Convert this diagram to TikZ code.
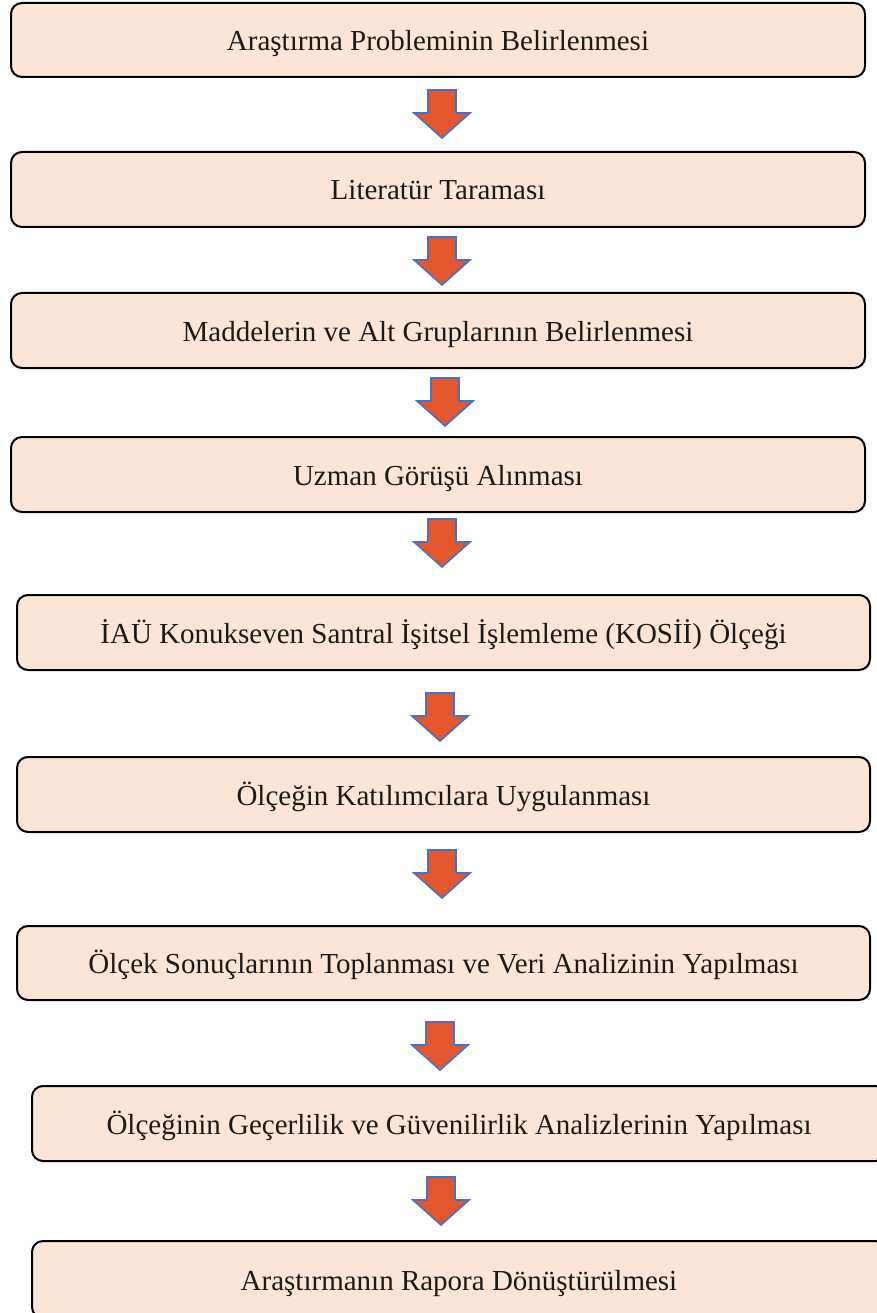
\documentclass[tikz,border=0pt]{standalone}
\usepackage{fontspec}
\setmainfont{Liberation Serif}
\usetikzlibrary{calc}
\definecolor{boxfill}{HTML}{FBE5D6}
\definecolor{arrfill}{HTML}{E4572E}
\definecolor{arrline}{HTML}{4472C4}
\definecolor{txt}{HTML}{1A1A1A}
\begin{document}
\begin{tikzpicture}[x=1pt,y=-1pt,
  stepbox/.style={draw=black,line width=2pt,fill=boxfill,rounded corners=11pt},
  steptext/.style={font=\fontsize{29}{33}\selectfont,text=txt,inner sep=0pt,anchor=base},
  blockarrow/.style={draw=arrline,fill=arrfill,line width=1.6pt,line join=miter}]
\useasboundingbox (0,0) rectangle (877,1313);
\begin{scope}
\clip (0,0) rectangle (877,1313);
\newcommand{\stepnode}[6]{%
  \draw[stepbox] (#2,#3) rectangle (#4,#5);
  \node[steptext] (#1) at ({(#2+#4)/2},{(#3+#5)/2+10.5}) {#6};}
\stepnode{b1}{11}{3}{865}{77}{Araştırma Probleminin Belirlenmesi}
\stepnode{b2}{11}{152}{865}{227}{Literatür Taraması}
\stepnode{b3}{11}{293}{865}{368}{Maddelerin ve Alt Gruplarının Belirlenmesi}
\stepnode{b4}{11}{437}{865}{512}{Uzman Görüşü Alınması}
\stepnode{b5}{17}{595}{870}{670}{İAÜ Konukseven Santral İşitsel İşlemleme (KOSİİ) Ölçeği}
\stepnode{b6}{17}{757}{870}{832}{Ölçeğin Katılımcılara Uygulanması}
\stepnode{b7}{17}{926}{870}{1000}{Ölçek Sonuçlarının Toplanması ve Veri Analizinin Yapılması}
\stepnode{b8}{32}{1086}{886}{1161}{Ölçeğinin Geçerlilik ve Güvenilirlik Analizlerinin Yapılması}
\stepnode{b9}{32}{1241}{886}{1318}{Araştırmanın Rapora Dönüştürülmesi}
\end{scope}
\newcommand{\blockdown}[3]{%
  \coordinate (#1) at (#2,#3);
  \draw[blockarrow] ($(#1)+(-14,-24)$) -- ($(#1)+(14,-24)$) -- ($(#1)+(14,-1)$)
    -- ($(#1)+(28,-1)$) -- ($(#1)+(0,24)$) -- ($(#1)+(-28,-1)$)
    -- ($(#1)+(-14,-1)$) -- cycle;}
\blockdown{a1}{442}{114}
\blockdown{a2}{442}{261}
\blockdown{a3}{445}{402}
\blockdown{a4}{442}{543}
\blockdown{a5}{440}{717}
\blockdown{a6}{442}{874}
\blockdown{a7}{440}{1046}
\blockdown{a8}{441}{1201}
\end{tikzpicture}
\end{document}
